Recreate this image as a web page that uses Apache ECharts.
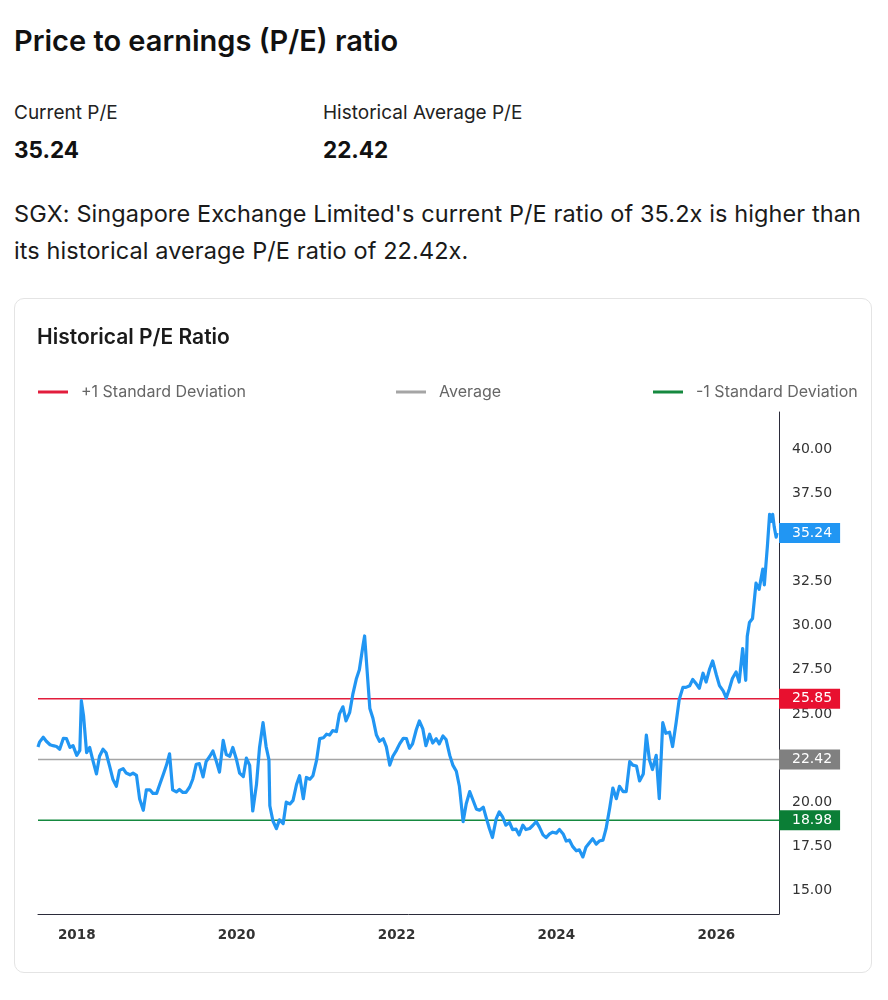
<!DOCTYPE html>
<html><head><meta charset="utf-8">
<script src="https://cdn.jsdelivr.net/npm/echarts@6/dist/echarts.min.js"></script>
<style>
html,body{margin:0;padding:0;background:#fff;width:888px;height:1000px;overflow:hidden;font-family:Inter,'Liberation Sans',sans-serif;color:#111}
.abs{position:absolute;white-space:nowrap}
#card{position:absolute;left:14px;top:298px;width:858px;height:675px;border:1px solid #e4e4e4;border-radius:10px;background:#fff;box-sizing:border-box}
#chart{position:absolute;left:0;top:0;width:888px;height:1000px}
</style></head>
<body>
<div class="abs" style="left:14px;top:21px;font-size:29px;font-weight:600;line-height:40px">Price to earnings (P/E) ratio</div>
<div class="abs" style="left:14px;top:101px;font-size:19px;line-height:24px;color:#222">Current P/E</div>
<div class="abs" style="left:14px;top:136px;font-size:22.5px;font-weight:700;line-height:28px">35.24</div>
<div class="abs" style="left:323px;top:101px;font-size:19px;line-height:24px;color:#222">Historical Average P/E</div>
<div class="abs" style="left:323px;top:136px;font-size:22.5px;font-weight:700;line-height:28px">22.42</div>
<div class="abs" style="left:14px;top:195px;font-size:23.5px;letter-spacing:0.1px;line-height:37px;color:#1a1a1a">SGX: Singapore Exchange Limited's current P/E ratio of 35.2x is higher than<br>its historical average P/E ratio of 22.42x.</div>
<div id="card"></div>
<div id="chart"></div>
<script>
const pe2017 = [['2017-07-08',23.12],['2017-07-15',23.4],['2017-08-01',23.68],['2017-08-15',23.45],['2017-09-01',23.25],['2017-09-15',23.2],['2017-10-01',23.15],['2017-10-15',23.0],['2017-11-01',23.62],['2017-11-15',23.6],['2017-12-01',23.1],['2017-12-15',23.2]];
const pe2018 = [['2018-01-01',22.65],['2018-01-15',22.93],['2018-01-22',25.75],['2018-02-01',24.9],['2018-02-15',22.8],['2018-03-01',23.1],['2018-03-15',22.4],['2018-04-01',21.6],['2018-04-15',22.6],['2018-05-01',23.0],['2018-05-15',22.8],['2018-06-01',22.0],['2018-06-15',21.3],['2018-07-01',20.9],['2018-07-15',21.8],['2018-08-01',21.9],['2018-08-15',21.65],['2018-09-01',21.55],['2018-09-15',21.65],['2018-10-01',21.52],['2018-10-15',20.2],['2018-11-01',19.54],['2018-11-15',20.7],['2018-12-01',20.7],['2018-12-15',20.5]];
const pe2019 = [['2019-01-01',20.5],['2019-01-15',21.0],['2019-02-01',21.6],['2019-02-15',22.1],['2019-03-01',22.74],['2019-03-15',20.7],['2019-04-01',20.58],['2019-04-15',20.72],['2019-05-01',20.55],['2019-05-15',20.55],['2019-06-01',20.86],['2019-06-15',21.3],['2019-07-01',22.15],['2019-07-15',22.18],['2019-08-01',21.43],['2019-08-15',22.3],['2019-09-01',22.6],['2019-09-15',22.9],['2019-10-01',22.3],['2019-10-15',21.7],['2019-11-01',23.5],['2019-11-15',22.7],['2019-12-01',22.6],['2019-12-15',23.1]];
const pe2020 = [['2020-01-01',22.4],['2020-01-15',21.65],['2020-02-01',21.45],['2020-02-15',22.5],['2020-03-01',22.08],['2020-03-15',19.5],['2020-04-01',21.0],['2020-04-15',23.1],['2020-05-01',24.5],['2020-05-15',23.15],['2020-05-28',22.4],['2020-06-01',19.8],['2020-06-15',18.95],['2020-07-01',18.5],['2020-07-15',19.0],['2020-08-01',18.79],['2020-08-15',20.0],['2020-09-01',19.9],['2020-09-15',20.1],['2020-10-01',21.0],['2020-10-15',21.5],['2020-11-01',20.2],['2020-11-15',21.4],['2020-12-01',21.3],['2020-12-15',21.5]];
const pe2021 = [['2021-01-01',22.4],['2021-01-15',23.6],['2021-02-01',23.65],['2021-02-15',23.85],['2021-03-01',23.8],['2021-03-15',24.05],['2021-04-01',24.0],['2021-04-15',25.0],['2021-05-01',25.4],['2021-05-15',24.6],['2021-06-01',25.09],['2021-06-15',26.1],['2021-07-01',26.97],['2021-07-15',27.5],['2021-08-01',28.9],['2021-08-08',29.41],['2021-08-15',28.2],['2021-09-01',25.3],['2021-09-15',24.75],['2021-10-01',23.8],['2021-10-15',23.45],['2021-11-01',23.59],['2021-11-15',23.15],['2021-12-01',22.1],['2021-12-15',22.6]];
const pe2022 = [['2022-01-01',22.95],['2022-01-15',23.3],['2022-02-01',23.62],['2022-02-15',23.6],['2022-03-01',23.05],['2022-03-15',23.3],['2022-04-01',24.1],['2022-04-15',24.6],['2022-05-01',24.15],['2022-05-15',23.2],['2022-06-01',23.85],['2022-06-15',23.35],['2022-07-01',23.59],['2022-07-15',23.3],['2022-08-01',23.75],['2022-08-15',23.55],['2022-09-01',22.65],['2022-09-15',22.1],['2022-10-01',21.75],['2022-10-15',20.9],['2022-11-01',18.9],['2022-11-15',19.9],['2022-12-01',20.6],['2022-12-15',20.15]];
const pe2023 = [['2023-01-01',19.6],['2023-01-15',19.55],['2023-02-01',19.72],['2023-02-15',19.1],['2023-03-01',18.51],['2023-03-15',18.0],['2023-04-01',19.05],['2023-04-15',19.45],['2023-05-01',19.15],['2023-05-15',18.7],['2023-06-01',18.85],['2023-06-15',18.45],['2023-07-01',18.47],['2023-07-15',18.15],['2023-08-01',18.7],['2023-08-15',18.45],['2023-09-01',18.51],['2023-09-15',18.68],['2023-10-01',18.9],['2023-10-15',18.6],['2023-11-01',18.15],['2023-11-15',18.0],['2023-12-01',18.2],['2023-12-15',18.3]];
const pe2024 = [['2024-01-01',18.25],['2024-01-15',18.45],['2024-02-01',18.2],['2024-02-15',17.8],['2024-03-01',17.85],['2024-03-15',17.5],['2024-04-01',17.25],['2024-04-15',17.3],['2024-05-01',16.9],['2024-05-15',17.45],['2024-06-01',17.72],['2024-06-15',17.93],['2024-07-01',17.62],['2024-07-15',17.8],['2024-08-01',17.85],['2024-08-15',18.5],['2024-09-01',19.7],['2024-09-15',20.8],['2024-10-01',20.2],['2024-10-15',20.9],['2024-11-01',20.6],['2024-11-15',20.6],['2024-12-01',22.3],['2024-12-15',22.1]];
const pe2025 = [['2025-01-01',22.05],['2025-01-15',21.2],['2025-02-01',21.6],['2025-02-15',23.8],['2025-03-01',22.4],['2025-03-15',21.85],['2025-04-01',22.65],['2025-04-15',20.2],['2025-05-01',24.5],['2025-05-15',23.9],['2025-06-01',23.96],['2025-06-15',23.15],['2025-07-01',24.5],['2025-07-15',25.8],['2025-08-01',26.5],['2025-08-15',26.5],['2025-09-01',26.59],['2025-09-15',26.95],['2025-10-01',26.7],['2025-10-15',26.45],['2025-11-01',27.3],['2025-11-15',26.8],['2025-12-01',27.54],['2025-12-15',28.0]];
const pe2026 = [['2026-01-01',27.2],['2026-01-15',26.6],['2026-02-01',26.3],['2026-02-15',25.9],['2026-03-01',26.41],['2026-03-15',27.0],['2026-04-01',27.37],['2026-04-15',26.8],['2026-05-01',28.7],['2026-05-15',26.9],['2026-05-22',29.4],['2026-06-01',30.17],['2026-06-15',30.4],['2026-07-01',32.4],['2026-07-15',32.05],['2026-08-01',33.2],['2026-08-08',32.3],['2026-08-15',33.4],['2026-08-22',34.5],['2026-09-01',36.3],['2026-09-08',35.9],['2026-09-15',36.3],['2026-09-22',35.6],['2026-10-01',35.0],['2026-10-05',35.24]];

const upperSD = 25.85;
const averagePE = 22.42;
const lowerSD = 18.98;
const legendNames = ['+1 Standard Deviation', 'Average', '-1 Standard Deviation'];
const xStart = '2017-07-08';
const xEnd = '2026-10-14';
const xTickYears = [2018, 2020, 2022, 2024, 2026];
const yTicks = [15, 17.5, 20, 22.5, 25, 27.5, 30, 32.5, 35, 37.5, 40];

const peSeries = [].concat(pe2017, pe2018, pe2019, pe2020, pe2021, pe2022, pe2023, pe2024, pe2025, pe2026);

const tagLabel = (bg, dist) => ({
  show: true,
  formatter: p => Number(p.value[1]).toFixed(2),
  backgroundColor: bg,
  color: '#fff',
  fontFamily: 'DejaVu Sans',
  fontSize: 14,
  lineHeight: 14,
  padding: [3, 8, 3, 13],
  distance: dist
});

function flatLine(name, value, color, tagColor) {
  return {
    name: name, type: 'line', silent: true, symbol: 'none', color: color,
    data: [[xStart, value], [xEnd, value]],
    lineStyle: { width: 1.5, color: color },
    endLabel: tagLabel(tagColor, 0),
    z: 2
  };
}

const legendBase = {
  icon: 'rect', itemWidth: 30, itemHeight: 3, top: 379,
  textStyle: { fontFamily: 'Inter', fontSize: 16, color: '#666', padding: [0, 0, 0, 8] }
};

const chart = echarts.init(document.getElementById('chart'), null, { renderer: 'canvas' });
chart.setOption({
  animation: false,
  backgroundColor: 'transparent',
  title: {
    text: 'Historical P/E Ratio', left: 32, top: 322,
    textStyle: { fontFamily: 'Inter', fontWeight: 600, fontSize: 21, color: '#1a1a1a' }
  },
  legend: [
    Object.assign({}, legendBase, { data: [legendNames[0]], left: 33 }),
    Object.assign({}, legendBase, { data: [legendNames[1]], left: 391 }),
    Object.assign({}, legendBase, { data: [legendNames[2]], left: 648 })
  ],
  grid: { left: 38, right: 109, top: 412, bottom: 86 },
  xAxis: {
    type: 'time', min: xStart, max: xEnd,
    minInterval: 365 * 24 * 3600 * 1000,
    axisLine: { show: true, lineStyle: { color: '#2b2b3a', width: 1 } },
    axisTick: { show: false },
    splitLine: { show: false },
    axisLabel: {
      formatter: v => {
        const d = new Date(v);
        const y = d.getFullYear();
        return (d.getMonth() === 0 && d.getDate() === 1 && xTickYears.indexOf(y) >= 0) ? String(y) : '';
      },
      hideOverlap: false,
      fontFamily: 'DejaVu Sans', fontWeight: 'bold', fontSize: 13.5, color: '#333', margin: 14
    }
  },
  yAxis: {
    type: 'value', position: 'right', min: 13.67, max: 42.09,
    axisLine: { show: true, onZero: false, lineStyle: { color: '#2b2b3a', width: 1 } },
    axisTick: { show: false },
    splitLine: { show: false },
    axisLabel: {
      customValues: yTicks,
      formatter: v => v.toFixed(2),
      fontFamily: 'DejaVu Sans', fontSize: 14, color: '#333', margin: 13
    }
  },
  series: [
    flatLine(legendNames[0], upperSD, '#e21d3c', '#e8102f'),
    flatLine(legendNames[1], averagePE, '#a5a5a5', '#808080'),
    flatLine(legendNames[2], lowerSD, '#15893f', '#0b7e36'),
    {
      name: 'P/E', type: 'line', symbol: 'none', color: '#2196f3',
      data: peSeries,
      lineStyle: { width: 3.2, color: '#2196f3', join: 'round' },
      endLabel: tagLabel('#2196f3', 2),
      z: 3
    }
  ]
});
</script>
</body></html>
